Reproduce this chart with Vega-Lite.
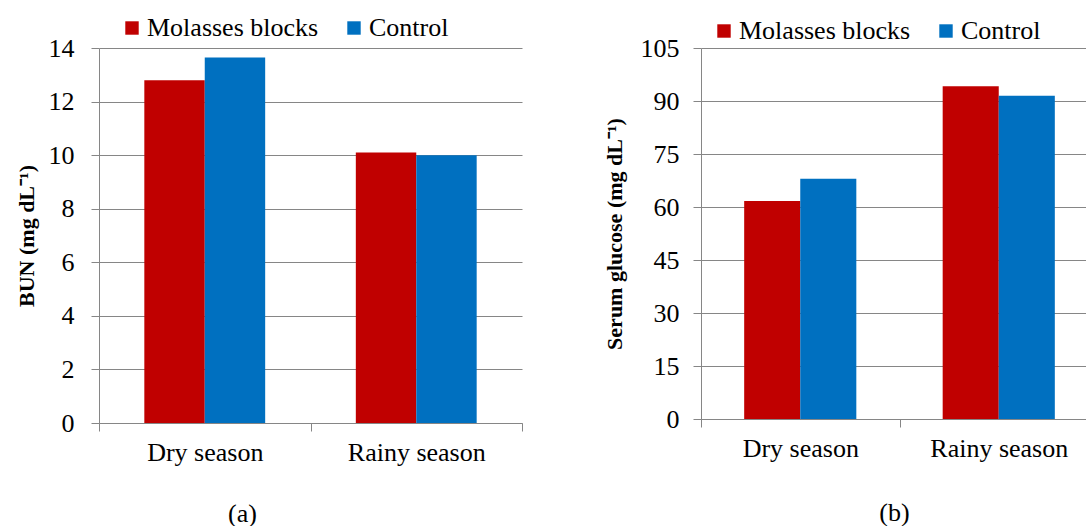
{
  "$schema": "https://vega.github.io/schema/vega-lite/v6.json",
  "padding": {"left": 15, "top": 15, "right": 0, "bottom": 0},
  "background": "white",
  "datasets": {
    "bun": [
      {"season": "Dry season", "group": "Molasses blocks", "value": 12.8},
      {"season": "Dry season", "group": "Control", "value": 13.65},
      {"season": "Rainy season", "group": "Molasses blocks", "value": 10.1},
      {"season": "Rainy season", "group": "Control", "value": 10.0}
    ],
    "glucose": [
      {"season": "Dry season", "group": "Molasses blocks", "value": 61.7},
      {"season": "Dry season", "group": "Control", "value": 68.0},
      {"season": "Rainy season", "group": "Molasses blocks", "value": 94.2},
      {"season": "Rainy season", "group": "Control", "value": 91.5}
    ]
  },
  "spacing": 80,
  "resolve": {"scale": {"color": "independent", "xOffset": "independent", "x": "independent", "y": "independent"}, "legend": {"color": "independent"}},
  "hconcat": [
    {
      "width": 423,
      "height": 375,
      "data": {"name": "bun"},
      "mark": {"type": "bar"},
      "encoding": {
        "x": {
          "field": "season", "type": "nominal",
          "scale": {"paddingInner": 0, "paddingOuter": 0},
          "axis": {"title": "(a)", "labelAngle": 0, "tickBand": "extent", "titlePadding": 35, "titleX": 143, "titleFontWeight": "normal", "titleFontSize": 26, "labelPadding": 8}
        },
        "xOffset": {
          "field": "group", "type": "nominal", "sort": ["Molasses blocks", "Control"],
          "scale": {"paddingOuter": 0.75, "paddingInner": 0}
        },
        "y": {
          "field": "value", "type": "quantitative",
          "scale": {"domain": [0, 14], "nice": false},
          "axis": {"values": [0, 2, 4, 6, 8, 10, 12, 14], "title": "BUN (mg dL⁻¹)", "titleFontWeight": "bold", "titleFontSize": 22, "labelPadding": 17, "titlePadding": 10}
        },
        "color": {
          "field": "group", "type": "nominal",
          "scale": {"domain": ["Molasses blocks", "Control"], "range": ["#C00000", "#0070C0"]},
          "legend": {"title": null, "orient": "none", "direction": "horizontal", "legendX": 20, "legendY": -33}
        }
      }
    },
    {
      "width": 397,
      "height": 371,
      "data": {"name": "glucose"},
      "mark": {"type": "bar"},
      "encoding": {
        "x": {
          "field": "season", "type": "nominal",
          "scale": {"paddingInner": 0, "paddingOuter": 0},
          "axis": {"title": "(b)", "labelAngle": 0, "tickBand": "extent", "titlePadding": 38, "titleX": 193, "titleFontWeight": "normal", "titleFontSize": 26, "labelPadding": 8}
        },
        "xOffset": {
          "field": "group", "type": "nominal", "sort": ["Molasses blocks", "Control"],
          "scale": {"paddingOuter": 0.77, "paddingInner": 0}
        },
        "y": {
          "field": "value", "type": "quantitative",
          "scale": {"domain": [0, 105], "nice": false},
          "axis": {"values": [0, 15, 30, 45, 60, 75, 90, 105], "title": "Serum glucose (mg dL⁻¹)", "titleFontWeight": "bold", "titleFontSize": 22, "labelPadding": 14, "titlePadding": 14}
        },
        "color": {
          "field": "group", "type": "nominal",
          "scale": {"domain": ["Molasses blocks", "Control"], "range": ["#C00000", "#0070C0"]},
          "legend": {"title": null, "orient": "none", "direction": "horizontal", "legendX": 10, "legendY": -30}
        }
      }
    }
  ],
  "config": {
    "font": "Liberation Serif",
    "view": {"stroke": null},
    "axis": {
      "labelFont": "Liberation Serif", "titleFont": "Liberation Serif",
      "labelFontSize": 26, "labelColor": "#000000", "titleColor": "#000000",
      "domainColor": "#868686", "tickColor": "#868686", "gridColor": "#868686",
      "tickSize": 8, "gridOpacity": 1
    },
    "axisX": {"grid": false},
    "axisY": {"grid": true},
    "legend": {
      "labelFont": "Liberation Serif",
      "labelFontSize": 26, "labelColor": "#000000", "labelLimit": 0,
      "symbolType": "square", "symbolSize": 180, "symbolStrokeWidth": 0, "symbolOpacity": 1,
      "columnPadding": 22, "labelOffset": 2
    }
  }
}
